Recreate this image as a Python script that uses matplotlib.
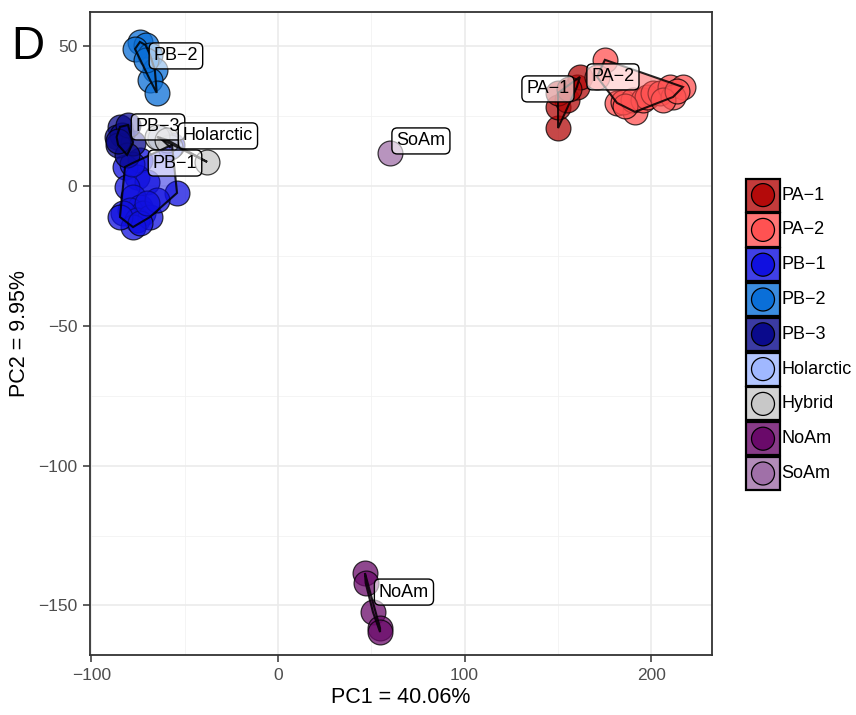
import numpy as np
import matplotlib
matplotlib.use("Agg")
import matplotlib.pyplot as plt
from matplotlib.patches import Polygon, Rectangle, Circle

plt.rcParams['font.family'] = ['Liberation Sans', 'DejaVu Sans']

# ---- PCA scores per population ----
groups = ["PA\u22121", "PA\u22122", "PB\u22121", "PB\u22122", "PB\u22123",
          "Holarctic", "Hybrid", "NoAm", "SoAm"]
colors = ["#B40A0A", "#FF5252", "#1010E0", "#0A6FD8", "#0A0A8C",
          "#A0B8FF", "#C8C8C8", "#6A0A6A", "#A070A8"]

pa1_pc1 = [150.1, 150.1, 154.9, 160.2, 161.8, 150.1, 156.0]
pa1_pc2 = [20.7, 28.3, 30.8, 35.4, 39.0, 33.3, 34.5]

pa2_pc1 = [175.2, 171.0, 181.7, 191.3, 184.9, 190.2, 195.6, 197.7, 201.0,
           204.7, 210.1, 217.0, 211.7, 206.3, 186.0, 214.0]
pa2_pc2 = [45.1, 39.0, 29.7, 26.5, 30.0, 30.8, 30.8, 31.8, 33.3,
           33.3, 35.4, 35.4, 31.8, 30.8, 28.5, 34.0]

pb1_pc1 = [-74.0, -82.0, -75.6, -70.2, -54.1, -80.9, -77.7, -74.0, -79.3,
           -72.3, -83.1, -75.6, -68.6, -77.7, -84.7, -74.0, -64.8, -56.8,
           -70.0, -78.5]
pb1_pc2 = [9.3, 6.8, 3.2, 1.4, -2.5, -0.4, -3.9, -7.5, -8.6,
           -9.7, -9.7, -12.2, -11.1, -14.7, -11.1, -13.2, -5.0, 14.7,
           -6.0, 8.0]

pb2_pc1 = [-74.0, -71.0, -76.6, -68.6, -66.0, -68.6, -65.0, -71.0]
pb2_pc2 = [51.5, 50.4, 49.0, 46.9, 41.5, 37.9, 33.3, 45.0]

pb3_pc1 = [-84.7, -86.5, -83.6, -77.7, -85.7, -80.9, -80.4, -85.5]
pb3_pc2 = [21.1, 17.5, 18.2, 15.4, 14.7, 11.1, 21.8, 16.0]

hol_pc1 = [-63.2, -57.9]
hol_pc2 = [17.2, 13.9]

hyb_pc1 = [-64.8, -59.5, -38.0]
hyb_pc2 = [17.5, 16.5, 8.6]

noam_pc1 = [46.6, 47.0, 50.9, 54.7, 54.7]
noam_pc2 = [-138.4, -142.0, -152.4, -158.1, -159.5]

soam_pc1 = [60.0]
soam_pc2 = [11.8]

pc1 = [pa1_pc1, pa2_pc1, pb1_pc1, pb2_pc1, pb3_pc1, hol_pc1, hyb_pc1, noam_pc1, soam_pc1]
pc2 = [pa1_pc2, pa2_pc2, pb1_pc2, pb2_pc2, pb3_pc2, hol_pc2, hyb_pc2, noam_pc2, soam_pc2]

# label anchor for each population name
label_pc1 = [144.7, 179.5, -55.2, -54.7, -64.3, -32.2, None, 67.5, 76.6]
label_pc2 = [34.7, 39.0, 8.2, 46.5, 21.1, 17.9, None, -145.2, 16.1]

x_ticks = [-100, 0, 100, 200]
y_ticks = [-150, -100, -50, 0, 50]


def convex_hull(xs, ys):
    pts = sorted(set(zip(xs, ys)))
    if len(pts) <= 2:
        return pts

    def cross(o, a, b):
        return (a[0] - o[0]) * (b[1] - o[1]) - (a[1] - o[1]) * (b[0] - o[0])

    lower, upper = [], []
    for p in pts:
        while len(lower) >= 2 and cross(lower[-2], lower[-1], p) <= 0:
            lower.pop()
        lower.append(p)
    for p in reversed(pts):
        while len(upper) >= 2 and cross(upper[-2], upper[-1], p) <= 0:
            upper.pop()
        upper.append(p)
    return lower[:-1] + upper[:-1]


W, H = 856, 715
fig = plt.figure(figsize=(W / 100, H / 100), dpi=100)
ax = fig.add_axes([90 / W, 1 - 655 / H, 622 / W, 643 / H])

ax.set_xlim(-100.75, 232.6)
ax.set_ylim(-167.7, 62.2)

# grid
for v in [-50, 50, 150]:
    ax.axvline(v, color="#F2F2F2", lw=0.6, zorder=0)
for v in [-125, -75, -25, 25]:
    ax.axhline(v, color="#F2F2F2", lw=0.6, zorder=0)
for v in x_ticks:
    ax.axvline(v, color="#EBEBEB", lw=1.2, zorder=0)
for v in y_ticks:
    ax.axhline(v, color="#EBEBEB", lw=1.2, zorder=0)

# points
for xs, ys, c in zip(pc1, pc2, colors):
    ax.scatter(xs, ys, s=320, c=c, alpha=0.75, edgecolors="black",
               linewidths=0.9, zorder=2)

# hulls over the points
for xs, ys, c in zip(pc1, pc2, colors):
    hull = convex_hull(xs, ys)
    if len(hull) >= 3:
        ax.add_patch(Polygon(hull, closed=True, facecolor=c, alpha=0.5,
                             edgecolor="none", zorder=3))
        ax.add_patch(Polygon(hull, closed=True, facecolor="none",
                             edgecolor="black", lw=1.5, alpha=0.85, zorder=3))
    elif len(hull) == 2:
        (x0, y0), (x1, y1) = hull
        ax.plot([x0, x1], [y0, y1], color="black", lw=1.5, alpha=0.85, zorder=3)

# population labels
for g, lx, ly in zip(groups, label_pc1, label_pc2):
    if lx is None:
        continue
    ax.text(lx, ly, g, fontsize=13, ha="center", va="center", zorder=5,
            bbox=dict(boxstyle="round,pad=0.25,rounding_size=0.3",
                      facecolor=(1, 1, 1, 0.6), edgecolor="black", lw=1.0))

ax.set_xticks(x_ticks)
ax.set_yticks(y_ticks)
ax.set_xticklabels([f"{t}".replace("-", "\u2212") for t in x_ticks])
ax.set_yticklabels([f"{t}".replace("-", "\u2212") for t in y_ticks])
ax.tick_params(axis="both", labelsize=12.5, colors="#333333",
               labelcolor="#4D4D4D", length=5, width=1.1, direction="out",
               pad=4)
for s in ax.spines.values():
    s.set_color("#333333")
    s.set_linewidth(1.3)

ax.set_xlabel("PC1 = 40.06%", fontsize=15.5, labelpad=3)
ax.set_ylabel("PC2 = 9.95%", fontsize=15.5, labelpad=6)

fig.text(28 / W, 1 - 47 / H, "D", fontsize=33, ha="center", va="center")

# legend built from key boxes with a point inside
lax = fig.add_axes([744 / W, 1 - 495 / H, 112 / W, 318 / H])
lax.set_xlim(0, 112)
lax.set_ylim(318, 0)
lax.axis("off")
key_h = 34.8
for i, (g, c) in enumerate(zip(groups, colors)):
    y0 = 1.5 + i * key_h
    lax.add_patch(Rectangle((2, y0), 34, key_h - 1.6, facecolor=c, alpha=0.8,
                            edgecolor="none"))
    lax.add_patch(Rectangle((2, y0), 34, key_h - 1.6, facecolor="none",
                            edgecolor="black", lw=1.6))
    lax.add_patch(Circle((19, y0 + (key_h - 1.6) / 2), 11.5, facecolor=c,
                         edgecolor="black", lw=0.9))
    lax.text(37.5, y0 + (key_h - 1.6) / 2, g, fontsize=13, ha="left",
             va="center")

fig.savefig("out.png", dpi=100)
